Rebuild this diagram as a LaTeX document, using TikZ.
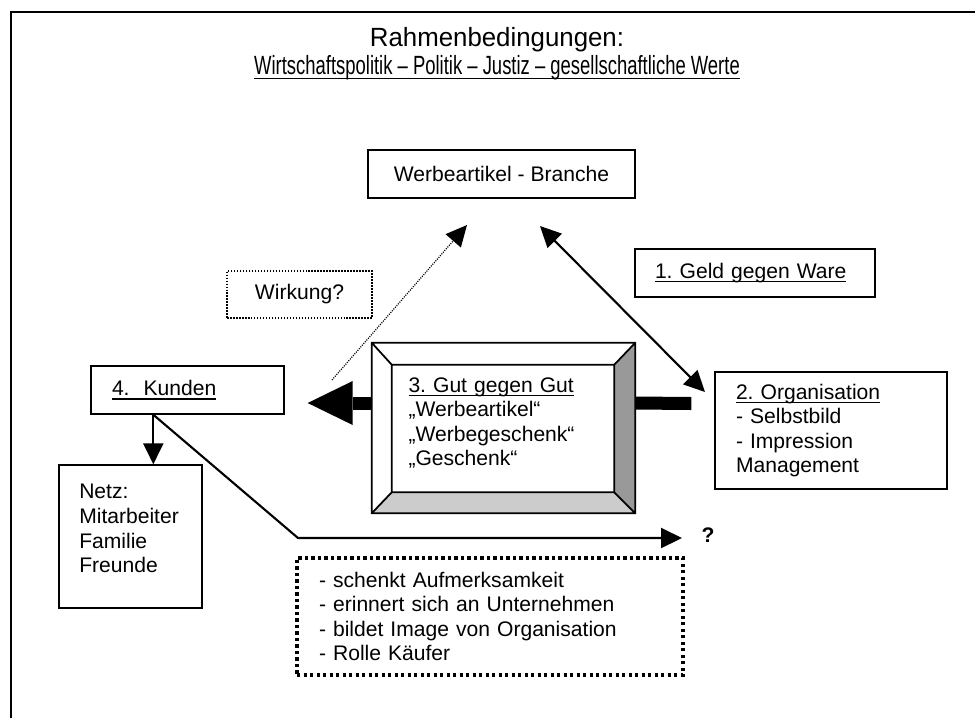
\documentclass[tikz,border=0pt]{standalone}
\usepackage{fontspec}
\setmainfont{Liberation Sans}
\newfontfamily\titelschrift[FakeStretch=0.98]{Liberation Sans}
\newfontfamily\werteschrift[FakeStretch=0.7]{Liberation Sans}
\usepackage{tikz}
\usetikzlibrary{calc,positioning,arrows.meta}
\frenchspacing

\newcommand{\unterstr}[1]{\setbox0\hbox{#1}\rlap{\rule[-2.2pt]{\wd0}{0.7pt}}\box0}

\tikzset{
	kasten/.style={draw,line width=0.8pt,inner sep=0pt},
	punktkasten/.style={kasten,dash pattern=on 0.9pt off 0.8pt},
	grobpunkt/.style={kasten,line width=1.9pt,dash pattern=on 1.9pt off 1.8pt},
	pfeil/.style={line width=1.2pt,-{Triangle[length=0.42cm,width=0.4cm]}},
	balken/.style={line width=7.4pt},
}

\begin{document}
\begin{tikzpicture}[x=0.02cm,y=-0.02cm,font=\fontsize{12}{14}\selectfont]
		\useasboundingbox (0,0) rectangle (975,718);
		\draw[line width=1.1pt] (11,718) -- (11,12) -- (975,12);
		\node(titel) [align=center,font=\fontsize{15}{16}\selectfont] at (497,54) {{\titelschrift Rahmenbedingungen:}\\{\werteschrift\unterstr{Wirtschaftspolitik – Politik – Justiz – gesellschaftliche Werte}}};
		\node(branche) [kasten,minimum width=5.34cm,minimum height=0.96cm] at (501.5,174) {Werbeartikel - Branche};
		\node(geld) [kasten,minimum width=4.8cm,minimum height=0.96cm,text width=4cm,align=left] at (755,273) {\unterstr{1. Geld gegen Ware}};
		\node(wirkung) [punktkasten,minimum width=2.9cm,minimum height=0.94cm] at (299.5,294.5) {Wirkung?};
		\node(org) [kasten,minimum width=4.64cm,minimum height=2.34cm,text width=3.8cm,align=left] at (831,430.5) {\unterstr{2. Organisation}\\- Selbstbild\\- Impression\\Management};
		\node(kunden) [kasten,minimum width=3.86cm,minimum height=0.96cm,text width=3.02cm,align=left] at (187.5,390) {\unterstr{4.\ \ Kunden}};
		\node(netz) [kasten,minimum width=2.86cm,minimum height=2.86cm,text width=2.05cm,align=left] at (130.5,536.5) {Netz:\\Mitarbeiter\\Familie\\Freunde\rule[-9pt]{0pt}{9pt}};
		\node(folgen) [grobpunkt,minimum width=7.72cm,minimum height=2.34cm,text width=6.84cm,align=left] at (490,616.5) {- schenkt Aufmerksamkeit\\- erinnert sich an Unternehmen\\- bildet Image von Organisation\\- Rolle Käufer};
		\node(frage) [font=\fontsize{12}{14}\selectfont\bfseries] at (708,535) {?};

		\node(gut) [minimum width=5.26cm,minimum height=3.4cm,inner sep=0pt] at (503.5,428) {};
		\coordinate (gi1) at ($(gut.north west)+(20,22)$);
		\coordinate (gi2) at ($(gut.south east)+(-21,-21)$);
		\fill[black!40] (gut.north east) -- (gut.south east) -- (gi2) -- (gi2 |- gi1) -- cycle;
		\fill[black!20] (gut.south west) -- (gut.south east) -- (gi2) -- (gi1 |- gi2) -- cycle;
		\draw[line width=1pt] (gut.north west) rectangle (gut.south east) (gi1) rectangle (gi2)
			(gut.north west) -- (gi1) (gut.north east) -- (gi2 |- gi1)
			(gut.south east) -- (gi2) (gut.south west) -- (gi1 |- gi2);
		\node(guttext) [text width=3.8cm,align=left] at ($(gut.center)+(0,-5)$) {\unterstr{3. Gut gegen Gut}\\„Werbeartikel“\\„Werbegeschenk“\\„Geschenk“};

		\coordinate (brancheL) at (467,225);
		\coordinate (brancheR) at (540,226);
		\coordinate (orgSpitze) at (705,392);
		\coordinate (wirkAnfang) at (332,380);
		\coordinate (kundenFuss) at ($(kunden.south west)+(63,0)$);
		\coordinate (knick) at (298,538);
		\coordinate (ziel) at (682,538);

		\draw[pfeil,{Triangle[length=0.42cm,width=0.4cm]}-{Triangle[length=0.42cm,width=0.4cm]}] (brancheR) -- (orgSpitze);
		\draw[pfeil,line width=0.7pt,dash pattern=on 0.6pt off 0.7pt] (wirkAnfang) -- (brancheL);
		\draw[pfeil] (kundenFuss) -- (kundenFuss |- netz.north);
		\draw[pfeil] (kundenFuss) -- (knick) -- (ziel);
		\draw[balken,-{Triangle[length=0.9cm,width=0.88cm,line width=0pt]}] ($(gut.west)+(0,-25)$) -- ++(-64,0);
		\draw[balken] ($(gut.east)+(0,-25)$) -- ($(org.west)+(-23,-27)$);
\end{tikzpicture}
\end{document}
